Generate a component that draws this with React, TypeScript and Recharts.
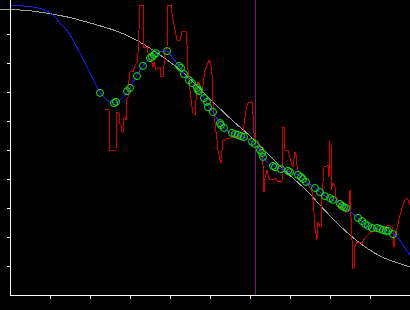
import React from "react";
import {
  ComposedChart, Line, Scatter, XAxis, YAxis, ReferenceLine,
} from "recharts";

// smooth reference curve (drawn from the very left edge)
const grayX = [-0.25, 0.575, 1.425, 2.25, 2.625, 3.0, 3.5, 4.0, 4.375, 4.75, 5.125, 5.575, 6.0, 6.425, 6.75, 7.075, 7.425, 7.75, 8.125, 8.5, 8.875, 9.3, 9.7, 10.0];
const grayY = [9.86, 9.79, 9.59, 9.28, 9.12, 8.9, 8.51, 8.03, 7.62, 7.1, 6.59, 6.0, 5.48, 4.9, 4.45, 4.03, 3.59, 3.1, 2.55, 2.07, 1.66, 1.31, 1.1, 0.97];

// fitted curve
const blueX = [0, 0.25, 0.575, 0.875, 1.0, 1.125, 1.25, 1.375, 1.5, 1.625, 1.75, 1.875, 2.0, 2.125, 2.25, 2.375, 2.5, 2.625, 2.75, 2.875, 3.0, 3.175, 3.325, 3.5, 3.675, 3.825, 3.925, 4.05, 4.225, 4.35, 4.5, 4.675, 4.85, 4.95, 5.075, 5.25, 5.4, 5.55, 5.775, 5.95, 6.125, 6.25, 6.325, 6.45, 6.575, 6.775, 7.0, 7.2, 7.4, 7.625, 7.875, 8.075, 8.25, 8.4, 8.55, 8.7, 8.875, 9.05, 9.25, 9.45, 9.575, 9.7, 9.825, 10.0];
const blueY = [9.97, 9.97, 9.93, 9.83, 9.72, 9.59, 9.38, 9.21, 8.97, 8.66, 8.34, 8.0, 7.66, 7.31, 7.0, 6.79, 6.66, 6.62, 6.72, 6.9, 7.14, 7.59, 7.9, 8.17, 8.34, 8.41, 8.41, 8.21, 7.9, 7.62, 7.38, 7.14, 6.79, 6.52, 6.31, 5.93, 5.69, 5.59, 5.48, 5.38, 5.21, 5.0, 4.76, 4.55, 4.45, 4.34, 4.24, 4.14, 3.9, 3.69, 3.41, 3.28, 3.14, 3.0, 2.83, 2.66, 2.45, 2.31, 2.28, 2.21, 2.1, 1.97, 1.72, 1.38];

// sample points
const markX = [2.25, 2.6, 2.65, 2.925, 3.0, 3.175, 3.325, 3.5, 3.55, 3.6, 3.65, 3.925, 4.225, 4.275, 4.35, 4.475, 4.55, 4.675, 4.7, 4.725, 4.85, 4.925, 4.95, 5.075, 5.25, 5.275, 5.35, 5.55, 5.625, 5.7, 5.775, 5.85, 6.05, 6.125, 6.25, 6.3, 6.325, 6.575, 6.625, 6.775, 6.95, 7.0, 7.2, 7.275, 7.325, 7.4, 7.625, 7.75, 7.875, 8.0, 8.075, 8.25, 8.3, 8.35, 8.4, 8.7, 8.8, 8.875, 8.95, 9.05, 9.175, 9.25, 9.325, 9.4, 9.45, 9.575];
const markY = [6.97, 6.62, 6.66, 7.03, 7.14, 7.55, 7.9, 8.17, 8.21, 8.28, 8.34, 8.41, 7.9, 7.83, 7.62, 7.41, 7.31, 7.14, 7.07, 7.03, 6.79, 6.66, 6.48, 6.31, 5.93, 5.86, 5.76, 5.59, 5.55, 5.52, 5.48, 5.45, 5.28, 5.21, 5.0, 4.9, 4.76, 4.45, 4.41, 4.34, 4.28, 4.24, 4.14, 4.07, 4.0, 3.9, 3.69, 3.55, 3.41, 3.34, 3.28, 3.14, 3.07, 3.03, 3.0, 2.66, 2.55, 2.45, 2.38, 2.31, 2.31, 2.28, 2.24, 2.21, 2.21, 2.1];

// raw noisy signal
const redX = [2.375, 2.475, 2.5, 2.65, 2.675, 2.725, 2.73, 2.775, 2.8, 2.825, 2.85, 2.875, 2.9, 2.925, 2.95, 2.975, 3.0, 3.075, 3.125, 3.175, 3.2, 3.225, 3.25, 3.325, 3.35, 3.425, 3.45, 3.5, 3.55, 3.575, 3.6, 3.65, 3.75, 3.775, 3.825, 3.875, 3.925, 3.95, 4.025, 4.075, 4.175, 4.25, 4.3, 4.4, 4.425, 4.45, 4.5, 4.55, 4.575, 4.625, 4.65, 4.7, 4.75, 4.8, 4.875, 4.925, 4.975, 5.025, 5.05, 5.075, 5.125, 5.175, 5.2, 5.25, 5.275, 5.3, 5.325, 5.375, 5.425, 5.5, 5.625, 5.75, 5.825, 5.9, 5.95, 6.05, 6.075, 6.1, 6.15, 6.25, 6.3, 6.325, 6.35, 6.375, 6.425, 6.45, 6.5, 6.575, 6.625, 6.7, 6.8, 6.825, 6.85, 6.875, 6.95, 7.0, 7.05, 7.075, 7.125, 7.15, 7.175, 7.2, 7.25, 7.325, 7.375, 7.425, 7.5, 7.55, 7.575, 7.6, 7.625, 7.675, 7.7, 7.75, 7.775, 7.8, 7.825, 7.85, 7.95, 7.975, 8.0, 8.025, 8.03, 8.075, 8.125, 8.15, 8.2, 8.25, 8.325, 8.375, 8.45, 8.475, 8.5, 8.525, 8.55, 8.575, 8.6, 8.625, 8.675, 8.8, 8.875, 9.0, 9.175, 9.375, 9.45, 9.55, 9.575, 9.6, 9.625, 9.675, 9.75, 9.825, 9.875, 9.925, 9.95, 10.0];
const redY = [6.38, 6.38, 5.0, 5.0, 6.28, 6.28, 5.93, 5.86, 5.62, 5.62, 6.1, 6.14, 6.03, 6.79, 6.83, 7.41, 7.69, 7.69, 7.93, 8.0, 8.34, 9.14, 10.0, 10.0, 8.55, 8.55, 8.34, 8.34, 8.0, 7.86, 8.03, 7.76, 7.86, 7.52, 7.52, 8.34, 8.55, 10.0, 10.0, 9.48, 8.79, 8.79, 9.07, 9.07, 8.62, 7.76, 7.07, 6.48, 6.28, 6.21, 6.72, 7.34, 7.24, 6.97, 7.76, 7.93, 8.1, 7.93, 7.59, 6.62, 5.93, 5.34, 5.0, 4.66, 4.55, 5.0, 5.34, 5.34, 5.41, 5.41, 5.48, 5.48, 5.62, 6.38, 6.62, 6.66, 6.21, 5.59, 5.28, 5.17, 4.83, 4.48, 3.55, 4.03, 4.31, 4.14, 3.97, 3.97, 4.03, 3.9, 3.93, 5.79, 5.79, 5.0, 5.0, 4.72, 4.48, 4.41, 4.93, 4.83, 4.48, 4.31, 4.24, 4.14, 4.03, 3.9, 3.69, 3.55, 3.28, 2.83, 2.31, 1.9, 2.52, 2.34, 2.34, 3.52, 3.86, 4.41, 4.48, 4.07, 5.28, 5.28, 3.62, 3.86, 3.72, 3.38, 3.28, 3.03, 3.03, 2.93, 2.86, 2.93, 3.62, 2.69, 1.9, 0.93, 0.97, 1.66, 1.83, 1.79, 1.97, 2.14, 2.24, 2.34, 2.41, 2.34, 2.17, 1.66, 2.0, 2.31, 2.76, 3.1, 3.28, 3.34, 3.28, 3.1];

const marker = 6.125;
const xTicks = [1, 2, 3, 4, 5, 6, 7, 8, 9];
const yTicks = [1, 2, 3, 4, 5, 6, 7, 8, 9];

const zip = (xs: number[], ys: number[]) => xs.map((x, i) => ({ x, y: ys[i] }));

const grayData = zip(grayX, grayY);
const blueData = zip(blueX, blueY);
const markData = zip(markX, markY);
const redData = zip(redX, redY);

const crisp = { shapeRendering: "crispEdges" } as any;
const axisStyle = { stroke: "#fff", strokeWidth: 1, ...crisp };
const NoLabel = () => <g />;

const Ring = (p: any) => (
  <circle cx={p.cx} cy={p.cy} r={3.5} fill="none" stroke="#11ee11" strokeWidth={1} />
);

export default function App() {
  return (
    <div style={{ position: "absolute", left: 0, top: 0, width: 410, height: 310, background: "#000" }}>
      <ComposedChart width={410} height={310} margin={{ top: 0, right: 0, bottom: 0, left: 0 }}>
        <XAxis
          dataKey="x" type="number" domain={[0, 10]} ticks={xTicks}
          tick={NoLabel} tickSize={4} height={15}
          axisLine={axisStyle} tickLine={axisStyle}
        />
        <XAxis
          xAxisId="g" dataKey="x" type="number" domain={[-0.25, 10]}
          padding={{ left: -10, right: 0 }} hide
        />
        <YAxis
          type="number" domain={[0, 295 / 29]} ticks={yTicks} width={10}
          tick={NoLabel} tickSize={3}
          axisLine={axisStyle} tickLine={axisStyle}
        />
        <ReferenceLine x={marker} stroke="#7a1a7a" strokeWidth={1} {...crisp} />
        <Line xAxisId="g" data={grayData} dataKey="y" type="monotone" stroke="#a0a0a0" strokeWidth={1} dot={false} isAnimationActive={false} {...crisp} />
        <Line data={redData} dataKey="y" type="linear" stroke="#d00000" strokeWidth={1} dot={false} isAnimationActive={false} {...crisp} />
        <Line data={blueData} dataKey="y" type="monotone" stroke="#1a1aff" strokeWidth={1} dot={false} isAnimationActive={false} {...crisp} />
        <Scatter data={markData} dataKey="y" shape={Ring} isAnimationActive={false} />
      </ComposedChart>
    </div>
  );
}
